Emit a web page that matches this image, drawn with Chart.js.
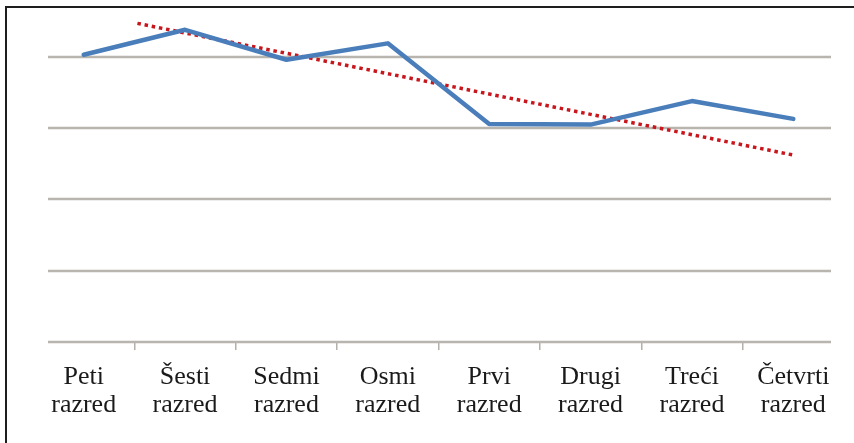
<!DOCTYPE html>
<html>
<head>
<meta charset="utf-8">
<script src="https://cdn.jsdelivr.net/npm/chart.js@4/dist/chart.umd.min.js"></script>
<style>
  html, body { margin: 0; padding: 0; background: #ffffff; }
  #chart { display: block; }
</style>
</head>
<body>
<canvas id="chart" width="854" height="443"></canvas>
<script>
// Categories (two-line labels)
var categories = [
    ['Peti', 'razred'],
    ['Šesti', 'razred'],
    ['Sedmi', 'razred'],
    ['Osmi', 'razred'],
    ['Prvi', 'razred'],
    ['Drugi', 'razred'],
    ['Treći', 'razred'],
    ['Četvrti', 'razred']
];

// Main series
var values = [4.03, 4.38, 3.96, 4.19, 3.06, 3.05, 3.38, 3.13];

// Trend line endpoints (category index, value)
var trendX = [0.53, 7.01];
var trendY = [4.47, 2.62];

// Horizontal grid values
var gridValues = [0, 1, 2, 3, 4];

// Short gray grid lines, like the original
var gridPlugin = {
    id: 'shortGrid',
    beforeDatasetsDraw: function(chart) {
        var ctx = chart.ctx;
        var area = chart.chartArea;
        var y = chart.scales.y;
        ctx.save();
        ctx.strokeStyle = '#b8b4ae';
        ctx.lineWidth = 2.5;
        gridValues.forEach(function(v) {
            var py = Math.round(y.getPixelForValue(v));
            ctx.beginPath();
            ctx.moveTo(area.left + 15, py);
            ctx.lineTo(area.right - 13, py);
            ctx.stroke();
        });
        ctx.restore();
    }
};

// Dark frame on the left and top
var framePlugin = {
    id: 'frame',
    afterDraw: function(chart) {
        var ctx = chart.ctx;
        ctx.save();
        ctx.strokeStyle = '#1e1e1e';
        ctx.lineWidth = 2;
        ctx.beginPath();
        ctx.moveTo(6, chart.height);
        ctx.lineTo(6, 7);
        ctx.lineTo(chart.width, 7);
        ctx.stroke();
        ctx.restore();
    }
};

var ctx = document.getElementById('chart').getContext('2d');
var chart = new Chart(ctx, {
    type: 'line',
    data: {
        labels: categories,
        datasets: [{
            label: 'Vrijednost',
            data: values,
            borderColor: '#4a7ebb',
            borderWidth: 4.5,
            pointRadius: 0,
            tension: 0,
            borderJoinStyle: 'round',
            borderCapStyle: 'round'
        }, {
            label: 'Trend',
            xAxisID: 'x2',
            data: trendX.map(function(x, i) { return { x: x, y: trendY[i] }; }),
            borderColor: '#c8161d',
            borderWidth: 3.5,
            borderDash: [3.5, 3.8],
            borderCapStyle: 'butt',
            pointRadius: 0,
            tension: 0
        }]
    },
    options: {
        responsive: false,
        maintainAspectRatio: false,
        animation: false,
        layout: {
            padding: { left: 33, right: 10, top: 7, bottom: 0 }
        },
        plugins: {
            legend: { display: false },
            tooltip: { enabled: false }
        },
        scales: {
            x: {
                type: 'category',
                offset: true,
                border: { display: false },
                grid: {
                    offset: true,
                    drawOnChartArea: false,
                    drawTicks: true,
                    tickLength: 8,
                    lineWidth: 1.5,
                    color: function(c) {
                        return (c.type === 'tick' && c.index >= 1) ? '#b4b0aa' : 'rgba(0,0,0,0)';
                    }
                },
                ticks: {
                    color: '#1a1a1a',
                    padding: 13,
                    maxRotation: 0,
                    autoSkip: false,
                    font: { family: '"Liberation Serif", serif', size: 26, lineHeight: 1.08 }
                },
                afterFit: function(scale) { scale.height = 101; }
            },
            x2: {
                type: 'linear',
                display: false,
                min: -0.5,
                max: 7.5
            },
            y: {
                display: false,
                min: 0,
                max: 4.7
            }
        }
    },
    plugins: [gridPlugin, framePlugin]
});
</script>
</body>
</html>
